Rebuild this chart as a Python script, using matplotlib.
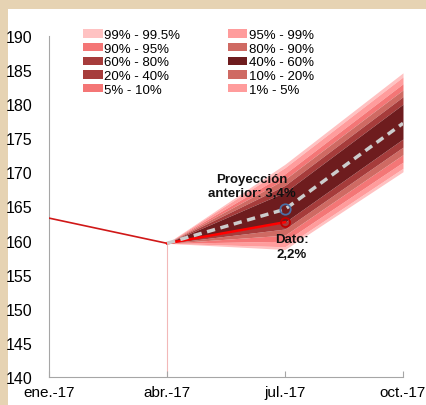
import matplotlib
matplotlib.use("Agg")
import matplotlib.pyplot as plt
from matplotlib.patches import Patch, Rectangle

plt.rcParams['font.family'] = ['Liberation Sans', 'DejaVu Sans']

# x positions: quarters
date_labels = ['ene.-17', 'abr.-17', 'jul.-17', 'oct.-17']
date_pos = [0, 1, 2, 3]

# observed index
hist_x = [0, 1, 2]
hist_y = [163.3, 159.6, 162.7]

# previous projection (central path)
proj_x = [1, 2, 3]
proj_y = [159.6, 164.6, 177.2]

# fan band boundaries, outermost to innermost, at abr / jul / oct
upper_bounds = [
    [159.6, 171.2, 184.6],
    [159.6, 170.7, 184.0],
    [159.6, 169.8, 183.0],
    [159.6, 169.0, 182.1],
    [159.6, 168.1, 181.1],
    [159.6, 167.1, 180.0],
]
lower_bounds = [
    [159.6, 158.7, 170.1],
    [159.6, 159.1, 170.6],
    [159.6, 159.9, 171.5],
    [159.6, 160.8, 172.6],
    [159.6, 161.7, 173.7],
    [159.6, 162.7, 174.9],
]
band_colors = ['#FFC2C2', '#FF9C9C', '#F47676', '#CF6A63', '#A63C3B']
core_color = '#6E1C1E'

legend_labels = ['99% - 99.5%', '95% - 99%', '90% - 95%', '80% - 90%', '60% - 80%',
                 '40% - 60%', '20% - 40%', '10% - 20%', '5% - 10%', '1% - 5%']
legend_colors = ['#FFC2C2', '#FF9C9C', '#F47676', '#CF6A63', '#A63C3B',
                 '#6E1C1E', '#A63C3B', '#CF6A63', '#F47676', '#FF9C9C']

fig = plt.figure(figsize=(4.27, 4.06), dpi=100, facecolor='#E6D3B3')
fig.add_artist(Rectangle((8 / 427, 0), 1, 1 - 10 / 406, transform=fig.transFigure,
                         facecolor='white', edgecolor='none', zorder=-5))
ax = fig.add_axes([49 / 427, 1 - 378 / 406, (403 - 49) / 427, (378 - 37) / 406])
ax.set_zorder(2)
ax.set_facecolor('none')

# fan: upper bands, lower bands, then core
for i, c in enumerate(band_colors):
    ax.fill_between(proj_x, upper_bounds[i], upper_bounds[i + 1], color=c, lw=0, zorder=2)
    ax.fill_between(proj_x, lower_bounds[i + 1], lower_bounds[i], color=c, lw=0, zorder=2)
ax.fill_between(proj_x, lower_bounds[-1], upper_bounds[-1], color=core_color, lw=0, zorder=2)

# vertical marker at abr
ax.plot([hist_x[1], hist_x[1]], [140, hist_y[1]], color='#F2B8B8', lw=0.8, zorder=1)

# observed data
ax.plot(hist_x[:2], hist_y[:2], color='#D01818', lw=1.2, zorder=4)
ax.plot(hist_x[1:], hist_y[1:], color='#FF0000', lw=1.8, zorder=4)
ax.plot(proj_x, proj_y, color='#CCCCCC', lw=2.5, dashes=(2.4, 1.6), zorder=5)

ax.plot(proj_x[1], proj_y[1], 'o', ms=7.5, mfc='none', mec='#4A6FA5', mew=1.3, zorder=6)
ax.plot(hist_x[2], hist_y[2], 'o', ms=6.5, mfc='none', mec='#C00000', mew=1.3, zorder=6)

ax.text(1.72, 168.0, 'Proyección\nanterior: 3,4%', ha='center', va='center',
        fontsize=9.5, fontweight='bold', linespacing=1.3, color='#111111', zorder=7)
ax.text(2.06, 159.1, 'Dato:\n2,2%', ha='center', va='center',
        fontsize=9.5, fontweight='bold', linespacing=1.3, color='#111111', zorder=7)

ax.set_xlim(0, 3)
ax.set_ylim(140, 190)
ax.set_xticks(date_pos)
ax.set_xticklabels(date_labels)
ax.set_yticks(range(140, 191, 5))
ax.tick_params(axis='x', direction='in', length=4, color='#A6A6A6', labelsize=11, pad=6)
ax.tick_params(axis='y', length=0, labelsize=11.5, pad=12)
for s in ['top', 'right']:
    ax.spines[s].set_visible(False)
for s in ['left', 'bottom']:
    ax.spines[s].set_color('#A6A6A6')

# legend, read row-wise in two columns
handles = [Patch(facecolor=c, edgecolor='none') for c in legend_colors]
order = [0, 2, 4, 6, 8, 1, 3, 5, 7, 9]
leg = fig.legend([handles[i] for i in order], [legend_labels[i] for i in order],
                 ncol=2, loc='upper left', bbox_to_anchor=(83 / 427, 1 - 30 / 406),
                 frameon=False, fontsize=9.5, handlelength=1.5, handleheight=0.6,
                 handletextpad=0.1, labelspacing=0.13, columnspacing=3.6, borderpad=0,
                 borderaxespad=0)
leg.set_zorder(10)

fig.savefig('out.png', dpi=100, facecolor=fig.get_facecolor())
